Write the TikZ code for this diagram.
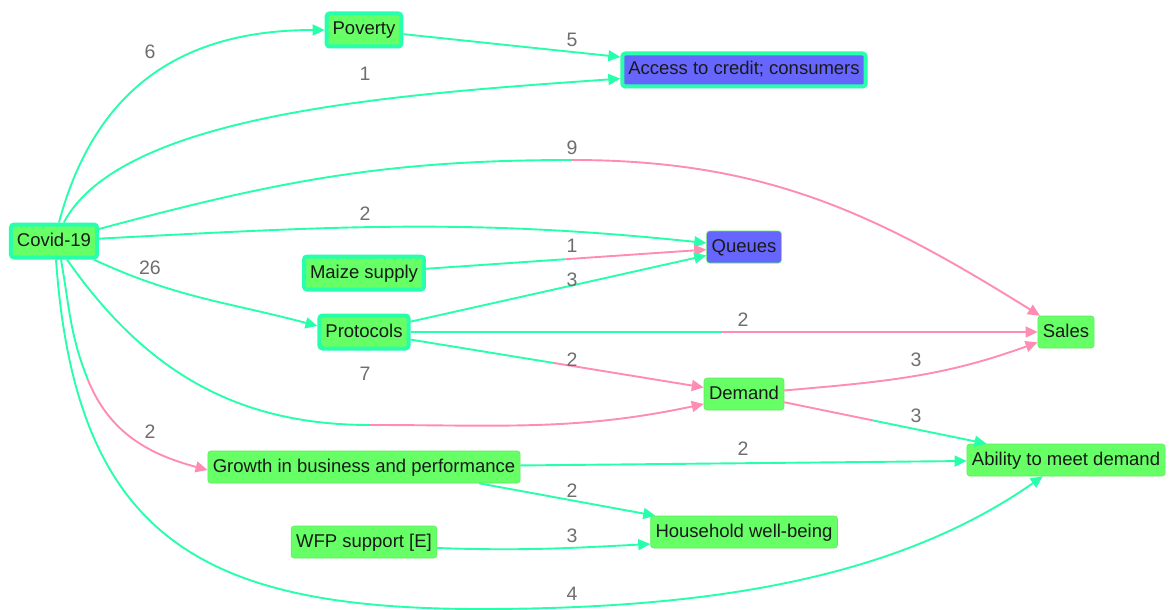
\documentclass[tikz,border=0pt]{standalone}
\usepackage{fontspec}
\setmainfont{Liberation Sans}
\usetikzlibrary{arrows.meta,calc}

\definecolor{edgegreen}{RGB}{40,255,170}
\definecolor{edgepink}{RGB}{255,140,178}
\definecolor{nodegreen}{RGB}{102,255,102}
\definecolor{nodeblue}{RGB}{102,102,255}
\definecolor{labelgray}{RGB}{110,110,110}

\begin{document}
\begin{tikzpicture}[x=1pt,y=1pt,
  every node/.style={font=\fontsize{18.5}{22}\selectfont},
  base/.style={rectangle, rounded corners=3pt, inner ysep=0pt,
    text height=13.5pt, text depth=3.5pt, text=black!90},
  plainbox/.style={base, fill=nodegreen, draw=nodegreen!92!black,
    line width=0.6pt, minimum height=32pt, inner xsep=5pt},
  thickbox/.style={base, fill=nodegreen, draw=edgegreen,
    line width=4pt, minimum height=33pt, inner xsep=6pt},
  bluefill/.style={fill=nodeblue},
  lab/.style={text=labelgray, inner sep=0pt, font=\fontsize{19.5}{22}\selectfont},
  gline/.style={draw=edgegreen, line width=1.9pt},
  pline/.style={draw=edgepink, line width=1.9pt},
  arr/.style={-{Triangle[length=12pt,width=11pt]}}
]
\useasboundingbox (0,0) rectangle (1171,-610);

% nodes
\node[thickbox] (covid) at (54,-241) {Covid-19};
\node[thickbox] (poverty) at (364,-30) {Poverty};
\node[thickbox,bluefill] (access) at (744,-70) {Access to credit; consumers};
\node[plainbox,bluefill] (queues) at (744,-247) {Queues};
\node[thickbox] (maize) at (364,-273) {Maize supply};
\node[thickbox] (protocols) at (364,-332) {Protocols};
\node[plainbox] (sales) at (1066,-332) {Sales};
\node[plainbox] (demand) at (744,-394) {Demand};
\node[plainbox] (ability) at (1066,-460) {Ability to meet demand};
\node[plainbox] (growth) at (364,-467) {Growth in business and performance};
\node[plainbox] (household) at (744,-532) {Household well-being};
\node[plainbox] (wfp) at (364,-542) {WFP support [E]};

% split points of two-coloured connectors
\coordinate (msales) at (572,-160);
\coordinate (mmaize) at ($(maize)!0.53!(queues)$);
\coordinate (mps) at ($(protocols)!0.51!(sales)$);
\coordinate (mpd) at ($(protocols)!0.5!(demand)$);
\coordinate (mcd) at (370,-425);
\coordinate (mda) at ($(demand)!0.4!(ability)$);
\coordinate (mgrowth) at (88,-380);
\coordinate (mlow) at (480,-609);

% connectors from Covid-19
\draw[gline,arr] (covid) to[out=75,in=180,looseness=1.1] (poverty);
\draw[gline,arr] (covid) to[out=62,in=184,out looseness=0.55] (access);
\draw[gline] (covid) to[out=15,in=180] (msales);
\draw[pline,arr] (msales) to[out=0,in=148] (sales);
\draw[gline,arr] (covid) to[out=3,in=174] (queues);
\draw[gline,arr] (covid) to[out=-25,in=165] ([yshift=6]protocols.west);
\draw[gline] (covid) to[out=-55,in=180] (mcd);
\draw[pline,arr] (mcd) to[out=0,in=192] ([yshift=-10]demand.west);
\draw[gline] ([xshift=7]covid.south) to[out=-80,in=112] (mgrowth);
\draw[pline,arr] (mgrowth) to[out=-68,in=165] ([yshift=-3]growth.west);
\draw[gline,arr] ([xshift=2]covid.south) to[out=-86,in=180,looseness=1.3] (mlow)
  to[out=0,in=215,in looseness=0.8] (ability);

% other connectors
\draw[gline,arr] (poverty) -- (access);
\draw[gline] (maize) -- (mmaize);
\draw[pline,arr] (mmaize) -- (queues);
\draw[gline,arr] (protocols) -- (queues);
\draw[gline] (protocols) -- (mps);
\draw[pline,arr] (mps) -- (sales);
\draw[gline] (protocols) -- (mpd);
\draw[pline,arr] (mpd) -- (demand);
\draw[pline,arr] (demand) to[out=5,in=200] (sales);
\draw[pline] (demand) -- (mda);
\draw[gline,arr] (mda) -- (ability);
\draw[gline,arr] (growth) -- (ability);
\draw[gline,arr] ([xshift=115]growth.south) -- (household);
\draw[gline,arr] ([yshift=-6]wfp.east) to[out=-2,in=183] ([yshift=-12]household.west);

% connector labels
\node[lab] (l1) at (150,-52) {6};
\node[lab] (l2) at (572,-40) {5};
\node[lab] (l3) at (365,-74) {1};
\node[lab] (l4) at (572,-148) {9};
\node[lab] (l5) at (365,-214) {2};
\node[lab] (l6) at (572,-246) {1};
\node[lab] (l7) at (572,-280) {3};
\node[lab] (l8) at (150,-268) {26};
\node[lab] (l9) at (743,-320) {2};
\node[lab] (l10) at (572,-360) {2};
\node[lab] (l11) at (365,-374) {7};
\node[lab] (l12) at (916,-360) {3};
\node[lab] (l13) at (916,-416) {3};
\node[lab] (l14) at (150,-432) {2};
\node[lab] (l15) at (743,-449) {2};
\node[lab] (l16) at (572,-491) {2};
\node[lab] (l17) at (572,-536) {3};
\node[lab] (l18) at (572,-594) {4};
\end{tikzpicture}
\end{document}
